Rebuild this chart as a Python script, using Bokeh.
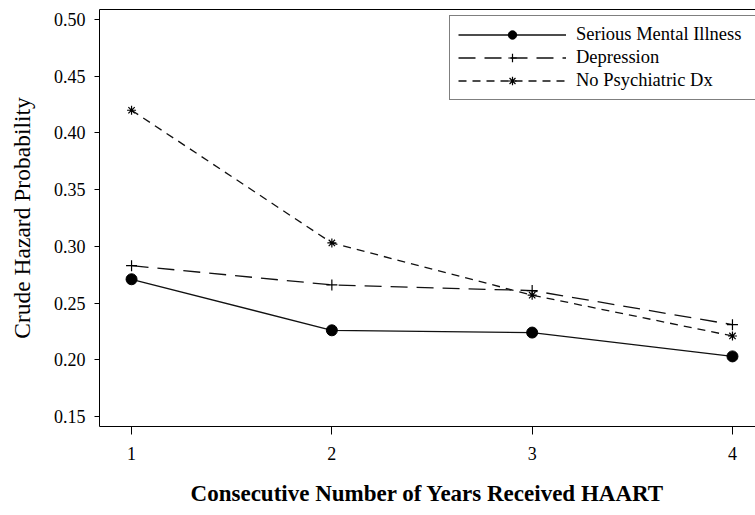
from bokeh.plotting import figure
from bokeh.models import (FixedTicker, NumeralTickFormatter, Legend, LegendItem,
                          LinearAxis, Range1d)
from bokeh.embed import file_html
from bokeh.resources import INLINE

years = [1, 2, 3, 4]
smi = [0.271, 0.226, 0.224, 0.203]
depression = [0.283, 0.266, 0.261, 0.231]
no_psych = [0.420, 0.303, 0.257, 0.221]
series_names = ["Serious Mental Illness", "Depression", "No Psychiatric Dx"]
y_ticks = [0.15, 0.20, 0.25, 0.30, 0.35, 0.40, 0.45, 0.50]
x_ticks = [1, 2, 3, 4]

FONT = "Liberation Serif"

p = figure(width=755, height=515, output_backend="svg", toolbar_location=None,
           x_range=Range1d(0.84, 4.115), y_range=Range1d(0.1412, 0.5088),
           min_border_left=99, min_border_top=9, min_border_right=0,
           min_border_bottom=89)
p.outline_line_color = None
p.xgrid.visible = False
p.ygrid.visible = False
p.background_fill_color = "white"
p.border_fill_color = "white"

lw = 1.3
c = "#111111"
l1 = p.line(years, smi, line_color=c, line_width=lw)
s1 = p.scatter(years, smi, marker="circle", size=11, fill_color="black", line_color="black")
l2 = p.line(years, depression, line_color=c, line_width=lw, line_dash="17 9")
s2 = p.scatter(years, depression, marker="cross", size=11, line_color="black", line_width=1.2)
l3 = p.line(years, no_psych, line_color=c, line_width=lw, line_dash="8 6")
s3 = p.scatter(years, no_psych, marker="asterisk", size=9, line_color="black", line_width=1.2)

legend = Legend(items=[LegendItem(label=series_names[0], renderers=[l1, s1]),
                       LegendItem(label=series_names[1], renderers=[l2, s2]),
                       LegendItem(label=series_names[2], renderers=[l3, s3])],
                location=(350, 326), margin=0, padding=8, spacing=2,
                glyph_width=108, glyph_height=21, label_height=21, label_width=190,
                label_standoff=10, label_text_font=FONT, label_text_font_size="18.5px",
                label_text_color="black", border_line_color="black",
                border_line_width=1, background_fill_alpha=1.0)
p.add_layout(legend)

xa = p.below[0]
ya = p.left[0]
for ax in (xa, ya):
    ax.axis_line_color = "black"
    ax.major_tick_line_color = "black"
    ax.minor_tick_line_color = None
    ax.major_tick_in = 0
    ax.major_label_text_font = FONT
    ax.major_label_text_font_size = "18px"
    ax.major_label_text_color = "black"
    ax.axis_label_text_font = FONT
    ax.axis_label_text_font_style = "normal"
    ax.axis_label_text_color = "black"

xa.ticker = FixedTicker(ticks=x_ticks)
xa.major_tick_out = 8
xa.major_label_standoff = 12
xa.axis_label = "Consecutive Number of Years Received HAART"
xa.axis_label_text_font_size = "23px"
xa.axis_label_text_font_style = "bold"
xa.axis_label_standoff = 18

ya.ticker = FixedTicker(ticks=y_ticks)
ya.formatter = NumeralTickFormatter(format="0.00")
ya.major_tick_out = 5
ya.major_label_standoff = 9
ya.axis_label = "Crude Hazard Probability"
ya.axis_label_text_font_size = "23.5px"
ya.axis_label_standoff = 16

# top border of the frame
top = LinearAxis(ticker=FixedTicker(ticks=[]), major_tick_out=0, major_tick_in=0,
                 major_label_text_font_size="0px", major_label_standoff=0,
                 axis_line_color="black", minor_tick_line_color=None)
p.add_layout(top, "above")

open("out.html", "w").write(file_html(p, INLINE))
